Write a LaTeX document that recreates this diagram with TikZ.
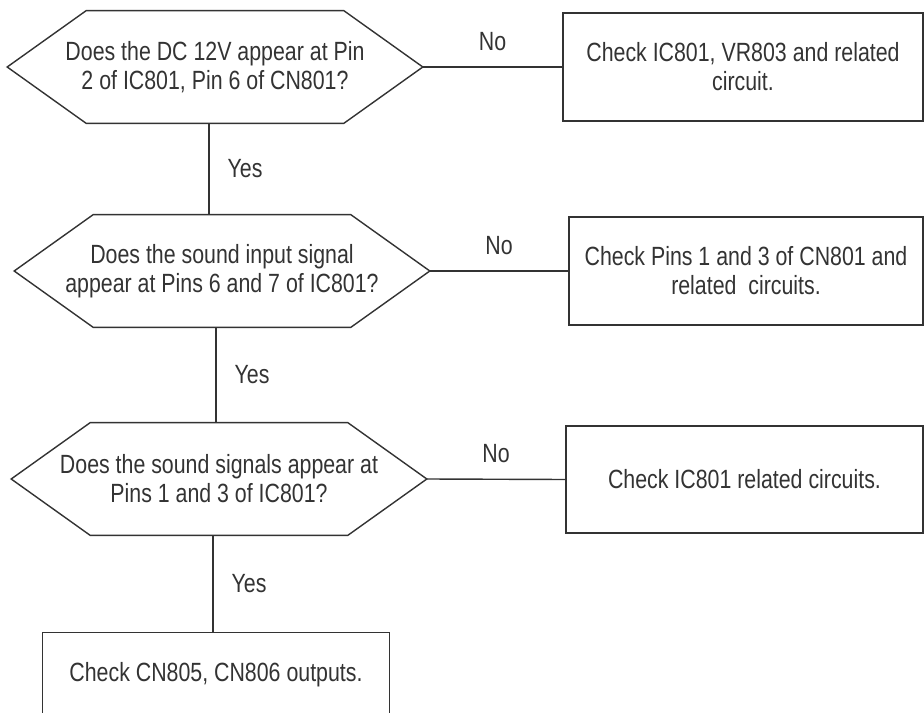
\documentclass[tikz,border=0pt]{standalone}
\usepackage{fontspec}
\setmainfont{Liberation Sans}[FakeStretch=0.81]
\usetikzlibrary{positioning}
\definecolor{tinta}{RGB}{51,51,51}

% contorno hexagonal alrededor de un nodo de pregunta
\newcommand{\hexborde}[1]{%
  \draw[linea] (#1.west) -- ([xshift=1.58cm]#1.north west) -- ([xshift=-1.58cm]#1.north east)
    -- (#1.east) -- ([xshift=-1.58cm]#1.south east) -- ([xshift=1.58cm]#1.south west) -- cycle;}

\tikzset{
  linea/.style={draw=tinta, line width=0.8pt},
  texto/.style={text=tinta, font=\fontsize{15pt}{16.5pt}\selectfont},
  pregunta/.style={texto, minimum width=8.3cm, minimum height=2.24cm, inner sep=0pt, align=center},
  caja/.style={texto, linea, minimum height=2.16cm, inner sep=0pt, align=center},
  etiqueta/.style={texto, inner sep=0pt},
}

\begin{document}
\begin{tikzpicture}[x=0.02cm, y=-0.02cm]
    \useasboundingbox (0,0) rectangle (924,713);

    % Preguntas
    \node[pregunta] (q1) at (215,67) {Does the DC 12V appear at Pin\\2 of IC801, Pin 6 of CN801?};
    \node[pregunta] (q2) at (222,271) {Does the sound input signal\\appear at Pins 6 and 7 of IC801?};
    \node[pregunta] (q3) at (219,479) {Does the sound signals appear at\\Pins 1 and 3 of IC801?};
    \hexborde{q1}
    \hexborde{q2}
    \hexborde{q3}

    % Acciones
    \node[caja, minimum width=7.2cm] (c1) at (743,67) {Check IC801, VR803 and related\\circuit.};
    \node[caja, minimum width=7.08cm] (c2) at (746,271) {Check Pins 1 and 3 of CN801 and\\related\ \ circuits.};
    \node[caja, minimum width=7.14cm, minimum height=2.14cm] (c3) at (744.5,479.5) {Check IC801 related circuits.};
    \node[texto, minimum width=6.92cm, minimum height=1.68cm, inner sep=0pt] (c4) at (216,675) {Check CN805, CN806 outputs.};
    \coordinate (fondo) at (0,713);
    \draw[linea] (c4.west |- fondo) |- (c4.north east) -- (c4.east |- fondo);

    % Ramas No
    \draw[linea] (q1.east) -- (c1.west) node[midway, above=0.32cm, etiqueta] {No};
    \draw[linea] (q2.east) -- (c2.west) node[midway, above=0.32cm, etiqueta] {No};
    \draw[linea] (q3.east) -- (c3.west) node[midway, above=0.32cm, etiqueta] {No};

    % Ramas Yes
    \draw[linea] ([xshift=-0.12cm]q1.south) -- ([xshift=-0.12cm]q1.south |- q2.north) node[midway, right=0.36cm, etiqueta] {Yes};
    \draw[linea] ([xshift=-0.12cm]q2.south) -- ([xshift=-0.12cm]q2.south |- q3.north) node[midway, right=0.36cm, etiqueta] {Yes};
    \draw[linea] ([xshift=-0.12cm]q3.south) -- ([xshift=-0.12cm]q3.south |- c4.north) node[midway, right=0.36cm, etiqueta] {Yes};
\end{tikzpicture}
\end{document}
